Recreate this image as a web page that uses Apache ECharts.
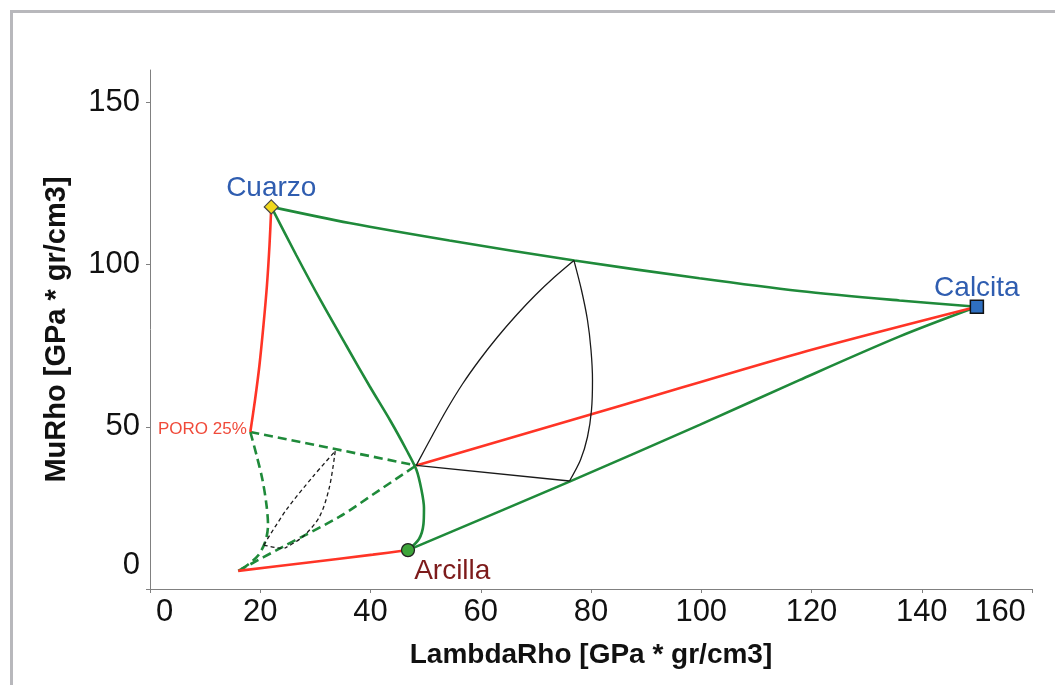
<!DOCTYPE html>
<html><head><meta charset="utf-8">
<script src="https://cdn.jsdelivr.net/npm/echarts@6/dist/echarts.min.js"></script>
<style>html,body{margin:0;padding:0;background:#fff}#c{width:1055px;height:685px}</style>
</head><body><div id="c"></div>
<script>
// ---- data (LambdaRho, MuRho) ----
const xTickValues = [0, 20, 40, 60, 80, 100, 120, 140, 160];
const yTickValues = [0, 50, 100, 150];
const xTitle = 'LambdaRho [GPa * gr/cm3]';
const yTitle = 'MuRho [GPa * gr/cm3]';

const cuarzo = [22, 117.8];
const calcita = [150, 87];
const arcilla = [46.8, 12];
const poro25 = [18.2, 48.4];

// solid red curves
const redCuarzoPoro = [[22, 117.8], [21.68, 106.05], [21.22, 93.72], [20.59, 81.39], [19.86, 69.06], [19.05, 58.27], [18.2, 48.4]];
const redPoroArcilla = [[16, 5.6], [28.34, 8.1], [40.42, 10.6], [46.8, 12]];
const redMixCalcita = [[48.3, 38.1], [85.2, 56.4], [117.8, 72.7], [150, 87]];
// solid green curves
const greenCuarzoCalcita = [[22, 117.8], [36.19, 112.83], [54.33, 107.44], [76.99, 101.27], [99.68, 95.78], [117.82, 91.87], [135.96, 88.94], [150, 87]];
const greenCuarzoArcilla = [[22, 117.8], [26.52, 102.97], [31.11, 88.48], [35.65, 74.91], [39.82, 62.58], [43.63, 51.79], [46.53, 42.85], [48.34, 36.69], [49.25, 30.52], [49.7, 24.97], [49.61, 20.04], [48.8, 15.41], [46.8, 12]];
const greenArcillaCalcita = [[46.8, 12], [76.1, 33.1], [99.7, 50.6], [117.8, 64.4], [135.9, 77.8], [150, 87]];
// dashed green curves (porosity 25%)
const dashPoroMix = [[18.2, 48.4], [48.3, 38.1]];
const dashPoroBase = [[18.2, 48.4], [19.32, 41.31], [20.41, 33.6], [21.13, 25.9], [21.41, 19.73], [20.95, 14.8], [19.68, 10.48], [17.69, 7.4], [16, 5.6]];
const dashBaseMix = [[16, 5.6], [24.09, 13.0], [34.38, 22.3], [41.63, 30.5], [48.3, 38.1]];
// black solid triangle
const blackMixTop = [[48.3, 38.1], [51.07, 46.86], [53.79, 55.18], [56.69, 63.2], [59.77, 70.6], [63.04, 77.69], [66.49, 84.47], [69.93, 90.64], [73.38, 96.19], [76.9, 101.3]];
const blackTopRight = [[76.9, 101.3], [78.27, 92.18], [79.36, 82.93], [80.0, 73.68], [80.27, 64.43], [80.09, 55.18], [79.36, 46.86], [78.09, 39.77], [76.1, 33.3]];
const blackRightMix = [[76.1, 33.3], [48.3, 38.1]];
// black dashed small triangle
const bdLeftTop = [[20.64, 13.56], [24.71, 24.35], [29.53, 34.6], [33.6, 42.5]];
const bdTopRight = [[33.6, 42.5], [32.56, 31.5], [30.75, 22.3], [27.72, 16.1], [24.4, 12.55]];
const bdLeftRight = [[20.64, 13.56], [22.6, 12.8], [24.4, 12.55]];

const FONT = "'Liberation Sans', Arial, sans-serif";
const GREEN = '#1f8a3a', RED = '#ff3426', BLACK = '#1a1a1a';

function line(data, color, width, dashed, smooth) {
  return {
    type: 'line', data: data, showSymbol: false, symbol: 'none', silent: true,
    smooth: smooth ? 0.3 : false, z: 2,
    lineStyle: { color: color, width: width, type: dashed ? dashed : 'solid' }
  };
}

const chart = echarts.init(document.getElementById('c'), null, { renderer: 'canvas' });
chart.setOption({
  animation: false,
  backgroundColor: '#ffffff',
  graphic: [{
    type: 'rect', left: 9, top: 9, z: -1, silent: true,
    shape: { x: 0, y: 0, width: 1200, height: 900 },
    style: { fill: 'none', stroke: '#b8b8bc', lineWidth: 3 }
  }],
  grid: { left: 150, right: 23, top: 70, bottom: 96 },
  xAxis: {
    type: 'value', min: 0, max: 160, interval: 20,
    name: xTitle, nameLocation: 'middle', nameGap: 52,
    nameTextStyle: { fontFamily: FONT, fontSize: 28, fontWeight: 'bold', color: '#111' },
    axisLine: { show: true, lineStyle: { color: '#808080', width: 1 } },
    axisTick: { show: true, length: 4, lineStyle: { color: '#808080' } },
    splitLine: { show: false },
    axisLabel: {
      fontFamily: FONT, fontSize: 31, color: '#111', margin: 8,
      formatter: function (v) {
        if (v === 0) return '{a|0}';
        if (v === 160) return '{b|160}';
        return String(v);
      },
      rich: {
        a: { fontFamily: FONT, fontSize: 31, color: '#111', padding: [0, 0, 0, 29] },
        b: { fontFamily: FONT, fontSize: 31, color: '#111', padding: [0, 64, 0, 0] }
      }
    }
  },
  yAxis: {
    type: 'value', min: 0, max: 160,
    name: yTitle, nameLocation: 'middle', nameGap: 79, nameRotate: 90,
    nameTextStyle: { fontFamily: FONT, fontSize: 29, fontWeight: 'bold', color: '#111' },
    axisLine: { show: true, lineStyle: { color: '#808080', width: 1 } },
    axisTick: { show: true, length: 4, customValues: yTickValues, lineStyle: { color: '#808080' } },
    splitLine: { show: false },
    axisLabel: {
      fontFamily: FONT, fontSize: 31, color: '#111', margin: 10,
      customValues: yTickValues,
      formatter: function (v) { return v === 0 ? '{z|0}' : String(v); },
      rich: { z: { fontFamily: FONT, fontSize: 31, color: '#111', padding: [0, 0, 48, 0] } }
    }
  },
  series: [
    line(greenCuarzoCalcita, GREEN, 2.6, null, true),
    line(greenCuarzoArcilla, GREEN, 2.6, null, true),
    line(greenArcillaCalcita, GREEN, 2.6, null, true),
    line(dashPoroMix, GREEN, 2.6, [9, 5], false),
    line(dashPoroBase, GREEN, 2.6, [9, 5], true),
    line(dashBaseMix, GREEN, 2.6, [9, 5], true),
    line(redCuarzoPoro, RED, 2.6, null, true),
    line(redPoroArcilla, RED, 2.6, null, true),
    line(redMixCalcita, RED, 2.6, null, true),
    line(blackMixTop, BLACK, 1.3, null, true),
    line(blackTopRight, BLACK, 1.3, null, true),
    line(blackRightMix, BLACK, 1.3, null, false),
    line(bdLeftTop, BLACK, 1.3, [4, 3], true),
    line(bdTopRight, BLACK, 1.3, [4, 3], true),
    line(bdLeftRight, BLACK, 1.3, [4, 3], true),
    {
      type: 'scatter', silent: true, z: 5,
      itemStyle: { opacity: 1 },
      data: [
        { value: cuarzo, symbol: 'diamond', symbolSize: [14, 14],
          itemStyle: { color: '#f0d81c', borderColor: '#444', borderWidth: 1.2, opacity: 1 },
          label: { show: true, formatter: 'Cuarzo', position: 'top', distance: 4, offset: [0, 7], color: '#2f5db0', fontSize: 28, fontFamily: FONT } },
        { value: calcita, symbol: 'rect', symbolSize: [13, 13],
          itemStyle: { color: '#2f6fc0', borderColor: '#111', borderWidth: 1.5, opacity: 1 },
          label: { show: true, formatter: 'Calcita', position: 'top', distance: 4, offset: [0, 7], color: '#2f5db0', fontSize: 28, fontFamily: FONT } },
        { value: arcilla, symbol: 'circle', symbolSize: 13,
          itemStyle: { color: '#3da53a', borderColor: '#222', borderWidth: 1.3, opacity: 1 },
          label: { show: true, formatter: 'Arcilla', position: 'right', offset: [-6, 21], color: '#7d1b1b', fontSize: 28, fontFamily: FONT } },
        { value: poro25, symbol: 'circle', symbolSize: 1,
          itemStyle: { color: 'rgba(0,0,0,0)', opacity: 1 },
          label: { show: true, formatter: 'PORO 25%', position: 'left', distance: 3, offset: [0, -3], color: '#f04a3a', fontSize: 17, fontFamily: FONT } }
      ]
    }
  ]
});
</script>
</body></html>
